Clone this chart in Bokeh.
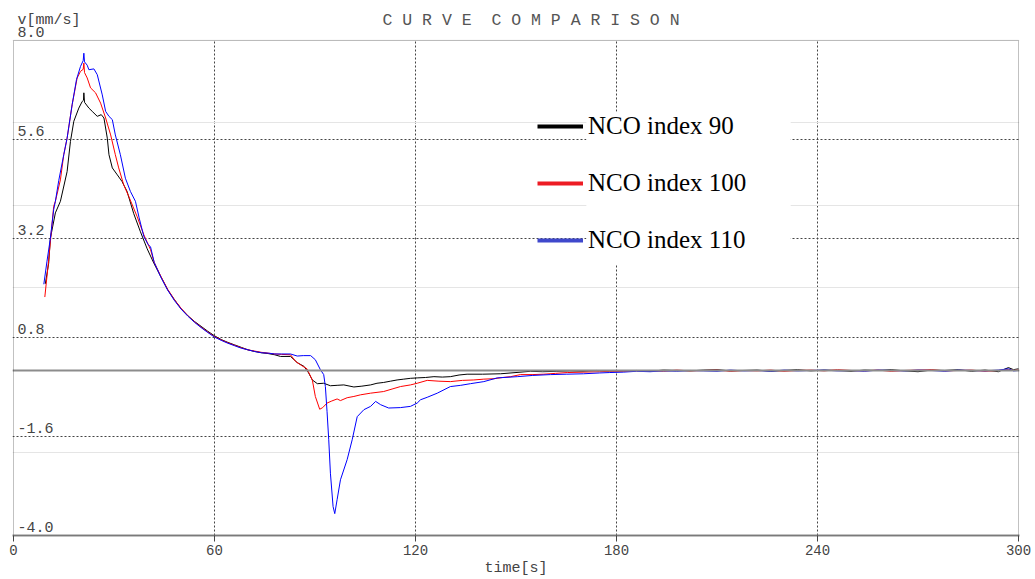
from bokeh.plotting import figure
from bokeh.models import (Range1d, FixedTicker, Grid, Span, LabelSet, Label,
                          ColumnDataSource, Legend, LegendItem, BoxAnnotation)
from bokeh.core.properties import value
from bokeh.embed import file_html
from bokeh.resources import INLINE

# ---- data -------------------------------------------------------------
# velocity traces v[mm/s] against time[s], one list of (t, v) per NCO index
nco90 = [(9.5, 2.10), (10.5, 2.60), (11.0, 3.20), (12.5, 3.82), (14.0, 4.10),
         (16.0, 4.82), (17.0, 5.55), (18.0, 6.04), (19.5, 6.36), (20.5, 6.52),
         (20.9, 6.55), (21.0, 6.73), (21.2, 6.50), (22.5, 6.36), (23.5, 6.28),
         (25.0, 6.16), (26.2, 6.20), (27.0, 6.12), (28.0, 5.63), (28.5, 5.23),
         (29.5, 4.91), (31.0, 4.74), (32.4, 4.58), (33.9, 4.34), (35.9, 3.80),
         (37.9, 3.36), (39.9, 2.95), (41.9, 2.60), (44.0, 2.27), (46.0, 1.96),
         (48.0, 1.72), (50.0, 1.50), (52.0, 1.33), (54.0, 1.19), (56.0, 1.07),
         (58.0, 0.95), (60.0, 0.84), (62.0, 0.75), (64.0, 0.68), (66.0, 0.62),
         (68.0, 0.56), (70.0, 0.50), (72.0, 0.46), (74.0, 0.43), (76.0, 0.41),
         (78.0, 0.38), (79.7, 0.34), (82.7, 0.34), (84.7, 0.19), (86.7, 0.10),
         (88.1, -0.06), (89.2, -0.23), (90.7, -0.32), (92.6, -0.31), (94.6, -0.37),
         (96.6, -0.36), (98.6, -0.35), (101.6, -0.40), (104.0, -0.38), (106.6, -0.35),
         (108.5, -0.31), (110.5, -0.29), (112.5, -0.26), (114.5, -0.23), (116.5, -0.21),
         (118.5, -0.19), (120.5, -0.18), (123.0, -0.17), (125.5, -0.15), (128.0, -0.16),
         (130.4, -0.15), (133.0, -0.11), (135.4, -0.09), (140.0, -0.09), (145.4, -0.08),
         (150.0, -0.05), (154.3, -0.02), (158.0, -0.03), (162.0, -0.02), (166.0, -0.01),
         (170.0, -0.02), (174.0, 0.00), (178.0, -0.01)]

nco100 = [(9.35, 1.78), (10.5, 2.68), (12.0, 3.98), (12.5, 4.10), (14.0, 4.62),
          (15.0, 5.23), (16.0, 5.63), (17.5, 6.44), (19.0, 7.09), (20.0, 7.25),
          (20.8, 7.30), (21.0, 7.45), (21.2, 7.22), (22.0, 7.09), (23.0, 6.85),
          (24.5, 6.73), (26.0, 6.48), (27.5, 6.12), (29.0, 5.71), (30.4, 5.23),
          (31.4, 4.91), (32.9, 4.50), (34.4, 4.22), (36.9, 3.73), (38.9, 3.29),
          (40.9, 2.93), (42.0, 2.62), (44.0, 2.28), (46.0, 1.97), (48.0, 1.72),
          (50.0, 1.51), (52.0, 1.33), (54.0, 1.18), (56.0, 1.05), (58.0, 0.93),
          (60.0, 0.82), (62.0, 0.74), (64.0, 0.67), (66.0, 0.61), (68.0, 0.55),
          (70.0, 0.50), (72.0, 0.47), (74.0, 0.44), (76.0, 0.42), (78.0, 0.40),
          (80.0, 0.39), (82.7, 0.38), (84.2, 0.22), (86.0, 0.12), (87.6, 0.04),
          (89.2, -0.23), (90.1, -0.63), (91.4, -0.94), (92.3, -0.90), (93.6, -0.79),
          (95.0, -0.74), (96.6, -0.69), (97.6, -0.73), (99.6, -0.66), (101.6, -0.63),
          (103.6, -0.59), (106.6, -0.55), (110.5, -0.51), (113.0, -0.45), (115.5, -0.39),
          (118.5, -0.35), (120.5, -0.31), (123.5, -0.24), (127.0, -0.26), (130.4, -0.27),
          (134.0, -0.24), (137.4, -0.23), (140.4, -0.21), (143.4, -0.20), (146.0, -0.17),
          (148.4, -0.15), (151.3, -0.10), (154.8, -0.10), (158.3, -0.09), (161.8, -0.07),
          (165.3, -0.05), (170.0, -0.04), (175.0, -0.03), (178.0, -0.02)]

nco110 = [(9.05, 2.09), (10.0, 2.65), (11.0, 3.20), (12.0, 3.90), (12.5, 4.10),
          (13.5, 4.60), (15.0, 5.23), (16.0, 5.63), (17.5, 6.44), (18.8, 7.05),
          (20.0, 7.37), (20.8, 7.51), (21.0, 7.69), (21.2, 7.48), (22.0, 7.40),
          (22.5, 7.29), (24.0, 7.31), (25.0, 7.17), (26.5, 6.68), (27.5, 6.28),
          (28.5, 6.16), (29.5, 6.08), (30.4, 5.71), (31.9, 5.23), (33.4, 4.66),
          (34.9, 4.34), (36.4, 4.10), (37.5, 3.70), (38.9, 3.25), (40.2, 3.05),
          (40.9, 3.00), (42.0, 2.62), (44.0, 2.26), (46.0, 1.95), (48.0, 1.70),
          (50.0, 1.49), (52.0, 1.32), (54.0, 1.17), (56.0, 1.04), (58.0, 0.92),
          (60.0, 0.81), (62.0, 0.73), (64.0, 0.66), (66.0, 0.60), (68.0, 0.54),
          (70.0, 0.50), (72.0, 0.46), (74.0, 0.43), (76.0, 0.42), (78.0, 0.40),
          (80.0, 0.40), (82.7, 0.40), (84.7, 0.35), (86.5, 0.36), (88.7, 0.36),
          (90.1, 0.26), (91.6, 0.02), (92.6, -0.10), (93.1, -0.39), (93.6, -1.00),
          (94.1, -1.68), (94.6, -2.49), (95.4, -3.30), (95.9, -3.47), (96.6, -3.13),
          (97.6, -2.65), (99.6, -2.16), (101.1, -1.68), (102.6, -1.12), (104.6, -0.95),
          (106.6, -0.87), (108.1, -0.75), (109.6, -0.83), (112.0, -0.91), (115.5, -0.90),
          (118.5, -0.87), (120.5, -0.79), (121.5, -0.71), (123.5, -0.65), (126.5, -0.55),
          (130.4, -0.39), (133.5, -0.36), (136.4, -0.32), (140.4, -0.27), (144.4, -0.18),
          (150.4, -0.15), (155.0, -0.12), (160.3, -0.10), (165.0, -0.09), (170.2, -0.08),
          (175.0, -0.06), (178.0, -0.05)]

# settled part of the record, after 180 s
tail_t = [182, 186, 190, 194, 198, 202, 206, 210, 214, 218, 222, 226, 230, 234, 238, 242,
          246, 250, 254, 258, 262, 266, 270, 274, 278, 282, 286, 290, 294, 297, 298.5, 300]
tail90 = [-0.01, 0.00, -0.02, 0.01, 0.00, -0.01, 0.01, 0.02, -0.01, 0.00, 0.01, -0.02, 0.00,
          0.02, -0.01, 0.01, 0.00, -0.02, 0.01, 0.00, 0.02, -0.01, -0.03, 0.01, 0.00, 0.02,
          -0.02, 0.01, -0.03, 0.07, 0.02, 0.04]
tail100 = [-0.02, -0.01, 0.00, -0.02, 0.01, -0.01, 0.00, 0.01, -0.02, 0.00, -0.01, 0.01, -0.02,
           0.00, 0.01, -0.01, 0.02, 0.00, -0.01, 0.01, -0.02, 0.00, 0.01, 0.02, -0.01, 0.00,
           0.01, -0.02, 0.00, 0.02, 0.00, 0.01]
tail110 = [-0.04, -0.02, -0.03, -0.01, -0.02, 0.00, -0.01, -0.02, 0.01, -0.01, 0.00, -0.02, 0.01,
           -0.01, 0.00, 0.01, -0.01, 0.00, -0.02, 0.01, 0.00, -0.01, 0.01, 0.00, -0.02, 0.01,
           0.00, -0.01, 0.01, 0.04, -0.01, 0.00]

series_names = ["NCO index 90", "NCO index 100", "NCO index 110"]
line_colors = ["#000000", "#ff0000", "#0000ff"]
legend_colors = ["#000000", "#ed1c24", "#3f48cc"]

x_ticks = [0, 60, 120, 180, 240, 300]
x_grid = [60, 120, 180, 240]
y_ticks = [8.0, 5.6, 3.2, 0.8, -1.6, -4.0]
y_tick_labels = ["8.0", "5.6", "3.2", "0.8", "-1.6", "-4.0"]
y_grid = [5.6, 3.2, 0.8, -1.6]
T_MIN, T_MAX, V_MIN, V_MAX = 0, 300, -4.0, 8.0

TITLE = "C U R V E \u00a0C O M P A R I S O N"
Y_NAME = "v[mm/s]"
X_NAME = "time[s]"

MONO = "Liberation Mono"
TXT = "#444444"

# ---- figure -------------------------------------------------------------
# The frame reaches up to the top of the canvas so that the header texts
# (title, unit, top value) can be drawn as ordinary annotations; the strip
# above the data box is blanked out and the box itself is outlined separately.
PX_X = 3.35          # pixels per second
PX_Y = 496 / 12.0    # pixels per mm/s
x_pad = 1 / PX_X
y_top = V_MAX + 40 / PX_Y

p = figure(width=1035, height=579, output_backend="svg", toolbar_location=None,
           x_range=Range1d(T_MIN - x_pad, T_MAX + x_pad), y_range=Range1d(V_MIN, y_top),
           y_axis_location=None,
           min_border_left=12, min_border_right=16, min_border_top=0,
           min_border_bottom=43)
p.background_fill_color = "white"
p.border_fill_color = "white"
p.outline_line_color = None

xa = p.xaxis[0]
xa.ticker = FixedTicker(ticks=x_ticks)
xa.axis_label = X_NAME
xa.axis_label_text_font = MONO
xa.axis_label_text_font_size = "15px"
xa.axis_label_text_font_style = "normal"
xa.axis_label_text_color = TXT
xa.axis_label_standoff = 2
xa.major_label_text_font = MONO
xa.major_label_text_font_size = "14px"
xa.major_label_text_color = TXT
xa.major_label_standoff = 3
xa.major_tick_in = 0
xa.major_tick_out = 6
xa.major_tick_line_color = "#444444"
xa.minor_tick_line_color = None
xa.axis_line_color = "#888888"
xa.axis_line_width = 2

p.xgrid.ticker = FixedTicker(ticks=x_grid)
p.xgrid.grid_line_color = "#444444"
p.xgrid.grid_line_dash = "2 2"
p.xgrid.grid_line_width = 1

ygrid = Grid(dimension=1, ticker=FixedTicker(ticks=y_grid),
             grid_line_color="#444444", grid_line_dash="2 2", grid_line_width=1)
p.add_layout(ygrid)

p.add_layout(Span(location=0, dimension="width", line_color="#8c8c8c", line_width=2))

# ---- traces -------------------------------------------------------------
for pts, tail, color in zip([nco90, nco100, nco110], [tail90, tail100, tail110], line_colors):
    t = [a for a, _ in pts] + tail_t
    v = [b for _, b in pts] + tail
    p.line(t, v, line_color=color, line_width=1)

# ---- header strip and data box ------------------------------------------
p.add_layout(BoxAnnotation(bottom=V_MAX, fill_color="white", fill_alpha=1.0, line_alpha=0))
p.add_layout(BoxAnnotation(left=T_MIN, right=T_MAX, bottom=V_MIN, top=V_MAX,
                           fill_alpha=0, line_color="#333333", line_width=1))

# value labels sit just above their gridlines
ylab_src = ColumnDataSource(dict(x=[T_MIN] * len(y_ticks), y=y_ticks, text=y_tick_labels))
p.add_layout(LabelSet(x="x", y="y", text="text", source=ylab_src, x_offset=4, y_offset=3.5,
                      text_font=value(MONO), text_font_size=value("15px"),
                      text_color=TXT, text_baseline="alphabetic", text_align="left"))
p.add_layout(Label(x=T_MIN, y=V_MAX, x_offset=4, y_offset=19.5, text=Y_NAME,
                   text_font=MONO, text_font_size="15px", text_color=TXT,
                   text_baseline="alphabetic", text_align="left"))
p.add_layout(Label(x=T_MIN, y=V_MAX, x_offset=369, y_offset=19.5, text=TITLE,
                   text_font=MONO, text_font_size="16.5px", text_color="#555555",
                   text_baseline="alphabetic", text_align="left"))

# ---- legend -------------------------------------------------------------
p.add_layout(BoxAnnotation(left=171, right=232, bottom=2.56, top=6.27,
                           fill_color="white", fill_alpha=1.0, line_alpha=0))
items = []
for name, color in zip(series_names, legend_colors):
    r = p.line(x=[float("nan")], y=[float("nan")], line_color=color, line_width=4)
    items.append(LegendItem(label=name, renderers=[r]))
legend = Legend(items=items, location=(525, 280), orientation="vertical",
                label_text_font="Liberation Serif", label_text_font_size="25px",
                label_text_color="#000000", glyph_width=46, glyph_height=30,
                label_height=30, label_standoff=5, spacing=27, padding=0, margin=0,
                border_line_alpha=0, background_fill_alpha=0)
p.add_layout(legend)

open("out.html", "w").write(file_html(p, INLINE))
